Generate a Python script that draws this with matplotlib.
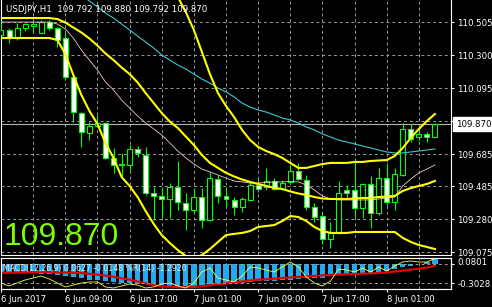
import matplotlib
matplotlib.use("Agg")
import matplotlib.pyplot as plt
from matplotlib.ticker import FormatStrFormatter
from matplotlib.transforms import blended_transform_factory

# ---- Velas USDJPY H1 ----
opens = [110.425, 110.456, 110.406, 110.468, 110.480, 110.437, 110.505, 110.468, 110.406, 110.164,
         109.940, 109.816, 109.859, 109.878, 109.661, 109.617, 109.617, 109.717, 109.679, 109.443,
         109.425, 109.406, 109.481, 109.381, 109.338, 109.418, 109.276, 109.530, 109.425, 109.400,
         109.356, 109.400, 109.493, 109.481, 109.518, 109.468, 109.512, 109.580, 109.524, 109.356,
         109.300, 109.158, 109.195, 109.462, 109.462, 109.350, 109.499, 109.319, 109.536, 109.387,
         109.555, 109.841, 109.791, 109.810, 109.792]
highs = [110.512, 110.468, 110.499, 110.501, 110.505, 110.518, 110.518, 110.474, 110.437, 110.189,
         109.946, 109.884, 109.928, 109.884, 109.723, 109.692, 109.741, 109.735, 109.729, 109.481,
         109.481, 109.505, 109.642, 109.443, 109.468, 109.474, 109.574, 109.555, 109.481, 109.418,
         109.418, 109.512, 109.530, 109.599, 109.536, 109.524, 109.617, 109.630, 109.555, 109.381,
         109.325, 109.263, 109.518, 109.493, 109.661, 109.505, 109.549, 109.599, 109.630, 109.599,
         109.878, 109.872, 109.847, 109.822, 109.880]
lows = [110.418, 110.375, 110.394, 110.451, 110.437, 110.434, 110.456, 110.350, 110.145, 109.884,
        109.729, 109.772, 109.853, 109.657, 109.568, 109.543, 109.586, 109.667, 109.431, 109.276,
        109.288, 109.288, 109.338, 109.213, 109.319, 109.226, 109.270, 109.381, 109.356, 109.307,
        109.325, 109.394, 109.450, 109.462, 109.462, 109.462, 109.505, 109.524, 109.338, 109.263,
        109.127, 109.102, 109.190, 109.418, 109.294, 109.288, 109.226, 109.307, 109.369, 109.338,
        109.549, 109.760, 109.772, 109.760, 109.792]
closes = [110.456, 110.406, 110.468, 110.493, 110.493, 110.505, 110.468, 110.394, 110.164, 109.946,
          109.822, 109.859, 109.878, 109.661, 109.617, 109.623, 109.717, 109.692, 109.443, 109.425,
          109.406, 109.481, 109.387, 109.338, 109.418, 109.276, 109.536, 109.425, 109.406, 109.356,
          109.406, 109.493, 109.468, 109.518, 109.468, 109.505, 109.580, 109.530, 109.356, 109.294,
          109.158, 109.195, 109.443, 109.443, 109.350, 109.499, 109.319, 109.536, 109.387, 109.561,
          109.841, 109.779, 109.810, 109.791, 109.870]

# ---- Bandas de Bollinger y medias ----
bb_upper = [110.654, 110.654, 110.654, 110.654, 110.654, 110.654, 110.654, 110.661, 110.698, 110.766,
            110.828, 110.853, 110.847, 110.866, 110.878, 110.903, 110.878, 110.841, 110.797, 110.754,
            110.717, 110.685, 110.661, 110.567, 110.456, 110.319, 110.182, 110.064, 109.984, 109.915,
            109.835, 109.772, 109.729, 109.704, 109.685, 109.661, 109.630, 109.599, 109.599, 109.611,
            109.623, 109.630, 109.630, 109.630, 109.636, 109.636, 109.642, 109.645, 109.648, 109.673,
            109.723, 109.785, 109.841, 109.890, 109.934]
bb_middle = [110.530, 110.530, 110.530, 110.530, 110.530, 110.530, 110.530, 110.524, 110.502, 110.471,
             110.440, 110.403, 110.359, 110.310, 110.269, 110.223, 110.182, 110.130, 110.064, 110.002,
             109.940, 109.887, 109.847, 109.794, 109.741, 109.679, 109.630, 109.599, 109.568, 109.546,
             109.527, 109.512, 109.499, 109.487, 109.474, 109.468, 109.453, 109.440, 109.431, 109.418,
             109.409, 109.406, 109.406, 109.406, 109.409, 109.412, 109.412, 109.418, 109.421, 109.425,
             109.456, 109.474, 109.487, 109.499, 109.518]
bb_lower = [110.406, 110.406, 110.406, 110.406, 110.406, 110.406, 110.406, 110.394, 110.307, 110.176,
            110.052, 109.953, 109.872, 109.754, 109.661, 109.543, 109.487, 109.418, 109.331, 109.251,
            109.182, 109.133, 109.089, 109.052, 109.034, 109.058, 109.095, 109.139, 109.182, 109.189,
            109.195, 109.207, 109.232, 109.238, 109.244, 109.269, 109.300, 109.294, 109.269, 109.232,
            109.207, 109.195, 109.195, 109.195, 109.201, 109.201, 109.201, 109.201, 109.201, 109.201,
            109.164, 109.139, 109.120, 109.108, 109.095]
ma_fast = [110.505, 110.505, 110.505, 110.505, 110.505, 110.505, 110.505, 110.493, 110.462, 110.406,
           110.331, 110.269, 110.207, 110.133, 110.083, 110.021, 109.971, 109.922, 109.878, 109.841,
           109.803, 109.754, 109.704, 109.661, 109.623, 109.592, 109.574, 109.555, 109.536, 109.518,
           109.512, 109.505, 109.505, 109.508, 109.512, 109.512, 109.515, 109.512, 109.493, 109.462,
           109.425, 109.406, 109.400, 109.400, 109.400, 109.400, 109.400, 109.406, 109.412, 109.418,
           109.487, 109.530, 109.568, 109.592, 109.617]
ma_slow = [111.015, 110.984, 110.953, 110.922, 110.890, 110.859, 110.828, 110.797, 110.766, 110.717,
           110.673, 110.636, 110.599, 110.561, 110.530, 110.493, 110.456, 110.418, 110.381, 110.344,
           110.300, 110.269, 110.238, 110.213, 110.182, 110.151, 110.126, 110.095, 110.071, 110.040,
           110.002, 109.977, 109.959, 109.946, 109.928, 109.909, 109.897, 109.878, 109.853, 109.835,
           109.810, 109.791, 109.772, 109.760, 109.748, 109.735, 109.723, 109.710, 109.698, 109.692,
           109.692, 109.698, 109.704, 109.710, 109.717]

# ---- Subventana MACD + %R ----
macd_hist = [-0.093, -0.093, -0.105, -0.105, -0.111, -0.118, -0.118, -0.130, -0.142, -0.155,
             -0.173, -0.186, -0.192, -0.204, -0.216, -0.223, -0.229, -0.235, -0.241, -0.253,
             -0.258, -0.262, -0.265, -0.265, -0.262, -0.258, -0.247, -0.241, -0.235, -0.229,
             -0.223, -0.216, -0.210, -0.204, -0.198, -0.195, -0.186, -0.180, -0.173, -0.167,
             -0.161, -0.148, -0.124, -0.118, -0.111, -0.105, -0.099, -0.093, -0.080, -0.060,
             -0.035, -0.015, 0.005, 0.030, 0.0627]
macd_signal = [-0.105, -0.103, -0.100, -0.098, -0.095, -0.093, -0.093, -0.097, -0.099, -0.103,
               -0.105, -0.115, -0.126, -0.137, -0.152, -0.171, -0.187, -0.210, -0.235, -0.256,
               -0.270, -0.275, -0.278, -0.278, -0.278, -0.268, -0.256, -0.245, -0.235, -0.223,
               -0.210, -0.198, -0.188, -0.182, -0.175, -0.167, -0.160, -0.155, -0.148, -0.142,
               -0.135, -0.130, -0.125, -0.121, -0.118, -0.114, -0.110, -0.105, -0.097, -0.087,
               -0.076, -0.063, -0.051, -0.038, -0.0148]
wpr = [-80.6, -90.3, -80.6, -71.0, -64.5, -58.1, -67.7, -80.6, -93.5, -87.1,
       -80.6, -77.4, -77.4, -93.5, -96.8, -90.3, -83.9, -87.1, -96.8, -93.5,
       -83.9, -80.6, -90.3, -96.8, -80.6, -45.2, -32.3, -64.5, -71.0, -77.4,
       -58.1, -29.0, -32.3, -38.7, -45.2, -29.0, -12.9, -29.0, -61.3, -80.6,
       -90.3, -74.2, -35.5, -38.7, -45.2, -32.3, -45.2, -29.0, -41.9, -25.8,
       -12.9, -9.7, -12.9, -12.9, -1.29]
wpr_levels = [-20, -80]
macd_range = [-0.3028, 0.0801]

price_levels = [110.505, 110.300, 110.095, 109.890, 109.685, 109.485, 109.280, 109.075]
bid = 109.870
header = "USDJPY,H1  109.792 109.880 109.792 109.870"
macd_title = "MACD(12,26,9) 0.0627 -0.0148 %R(14) -1.2920"
time_ticks = [0, 8, 16, 24, 32, 40, 48]
time_labels = ["6 Jun 2017", "6 Jun 09:00", "6 Jun 17:00", "7 Jun 01:00",
               "7 Jun 09:00", "7 Jun 17:00", "8 Jun 01:00"]
grid_bars = list(range(4, 56, 4))

LIME = "#00ff00"
GRID = "#9a9a9a"
DASH = (0, (3, 3))
W, H = 492, 307

x = list(range(len(closes)))

fig = plt.figure(figsize=(W / 100, H / 100), dpi=100, facecolor="black")
ax = fig.add_axes([1 / W, 1 - 255 / H, 450 / W, 255 / H])
ax_macd = fig.add_axes([1 / W, 1 - 289 / H, 450 / W, 31 / H])
ax_wpr = ax_macd.twinx()

for a in (ax, ax_macd):
    a.set_facecolor("black")
    a.set_xlim(0, 56)
    a.set_axisbelow(True)
    for s in a.spines.values():
        s.set_color("white")
        s.set_linewidth(0.8)
    a.set_xticks(grid_bars, minor=True)
    a.grid(True, which="minor", axis="x", color=GRID, ls=DASH, lw=0.7)
    a.tick_params(axis="x", which="minor", length=0)
ax.spines["top"].set_visible(False)

# ---- Grafico principal ----
ax.set_ylim(109.058, 110.642)
ax.set_xticks([])
ax.set_yticks(price_levels)
ax.yaxis.set_major_formatter(FormatStrFormatter("%.3f"))
ax.yaxis.tick_right()
ax.tick_params(axis="y", colors="white", labelsize=6.2, length=2.5, width=0.8, pad=2)
ax.grid(True, which="major", axis="y", color=GRID, ls=DASH, lw=0.7)
ax.axhline(bid, color="#b4b4b4", lw=0.8, zorder=2)
# la etiqueta del nivel tapado por el precio actual no se ve
ax.yaxis.get_major_ticks()[price_levels.index(109.890)].label2.set_visible(False)

body_low = [min(o, c) for o, c in zip(opens, closes)]
body_h = [abs(c - o) for o, c in zip(opens, closes)]
body_col = ["black" if c > o else "white" for o, c in zip(opens, closes)]
ax.vlines(x, lows, highs, color=LIME, lw=0.8, zorder=3)
ax.bar(x, body_h, 0.62, bottom=body_low, color=body_col, edgecolor=LIME, linewidth=0.8, zorder=4)

ax.plot(x, ma_slow, color="#3cc8d2", lw=0.8, zorder=5)
ax.plot(x, ma_fast, color="#f0c8c8", lw=0.6, zorder=5)
for band in (bb_upper, bb_middle, bb_lower):
    ax.plot(x, band, color="#ffff00", lw=1.5, zorder=6)

tr = blended_transform_factory(ax.transAxes, ax.transData)
ax.text(1.0 + 5 / 450, bid, f"{bid:.3f}", transform=tr, ha="left", va="center",
        fontsize=6.2, color="black", clip_on=False, zorder=10,
        bbox=dict(boxstyle="square,pad=0.3", fc="white", ec="white"))

fig.text(6 / W, 1 - 12 / H, header, color="white", fontsize=6.2, va="baseline")
fig.text(4 / W, 1 - 245 / H, f"{closes[-1]:.3f}", color="#7cfc00", fontsize=23,
         family="Liberation Sans", va="baseline")

# ---- MACD ----
ax_macd.set_ylim(macd_range)
ax_macd.bar(x, macd_hist, 0.66, color="#22aaee", zorder=2)
ax_macd.plot(x, macd_signal, color="#e00000", lw=1.6, zorder=3)
ax_macd.set_yticks(macd_range)
ax_macd.yaxis.set_major_formatter(FormatStrFormatter("%.4f"))
ax_macd.yaxis.tick_right()
ax_macd.yaxis.set_label_position("right")
ax_macd.tick_params(axis="y", colors="white", labelsize=6.2, length=0, pad=4.5)
ax_macd.set_xticks(time_ticks)
ax_macd.set_xticklabels(time_labels)
ax_macd.tick_params(axis="x", which="major", colors="white", labelsize=6, length=2.5, width=0.8, pad=1.5)
for lab in ax_macd.get_xticklabels():
    lab.set_ha("left")
for tick, va in zip(ax_macd.yaxis.get_major_ticks(), ["bottom", "top"]):
    tick.label2.set_va(va)

ax_wpr.set_ylim(-100, 0)
ax_wpr.set_xlim(0, 56)
for s in ax_wpr.spines.values():
    s.set_color("white")
    s.set_linewidth(0.8)
ax_wpr.plot(x, wpr, color="#ffff40", lw=0.6, zorder=4)
for lvl in wpr_levels:
    ax_wpr.axhline(lvl, color=GRID, ls=DASH, lw=0.7, zorder=1)
ax_wpr.set_yticks(wpr_levels)
ax_wpr.set_yticklabels([])
ax_wpr.tick_params(axis="y", colors="white", length=2.5, width=0.8)

fig.text(3 / W, 1 - 271.5 / H, macd_title, color="#e8e8e8", fontsize=5.6, va="baseline")

fig.savefig("out.png", dpi=100, facecolor="black")
